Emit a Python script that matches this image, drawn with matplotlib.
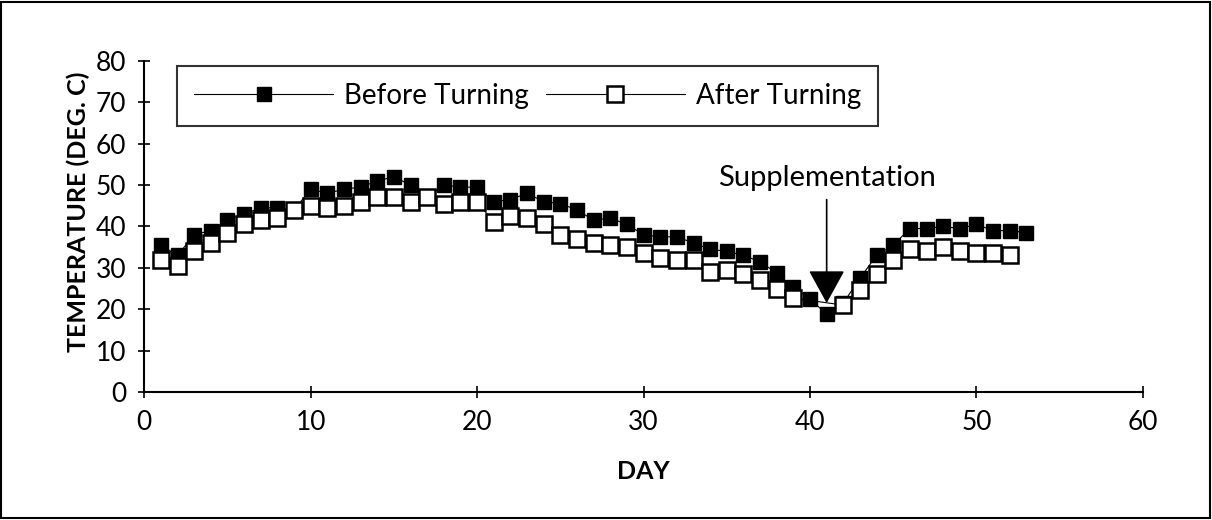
import matplotlib.pyplot as plt
from matplotlib.patches import Rectangle

days_before = list(range(1, 54))
before_turning = [35.5, 33, 38, 39, 41.5, 43, 44.5, 44.5, 44, 49,
                  48, 49, 49.5, 51, 52, 50, 47, 50, 49.5, 49.5,
                  46, 46.5, 48, 46, 45.5, 44, 41.5, 42, 40.5, 38,
                  37.5, 37.5, 36, 34.5, 34, 33, 31.5, 28.7, 25.4, 22.5,
                  18.8, 21.5, 27.5, 33, 35.5, 39.5, 39.5, 40, 39.5, 40.5,
                  39, 39, 38.5]
# no readings after turning on days 40 and 41
days_after = list(range(1, 40)) + list(range(42, 53))
after_turning = [32, 30.5, 34, 36, 38.5, 40.5, 41.5, 42, 44, 45,
                 44.5, 45, 46, 47, 47, 46, 47, 45.5, 46, 46,
                 41, 42.5, 42, 40.5, 38, 37, 36, 35.5, 35, 33.5,
                 32.5, 32, 32, 29, 29.5, 28.5, 27, 24.8, 22.7,
                 21, 24.7, 28.5, 32, 34.5, 34, 35, 34, 33.5,
                 33.5, 33]

plt.rcParams['font.family'] = ['Lato', 'DejaVu Sans']

fig = plt.figure(figsize=(12.12, 5.2), dpi=100)
ax = fig.add_axes([0.119, 0.246, 0.824, 0.637])

ax.plot(days_before, before_turning, color='black', lw=0.8, marker='s',
        markersize=10.5, markerfacecolor='black', markeredgecolor='black',
        label='Before Turning')
ax.plot(days_after, after_turning, color='black', lw=0.8, marker='s',
        markersize=11, markerfacecolor='white', markeredgecolor='black',
        markeredgewidth=1.8, label='After Turning')

ax.set_xlim(0, 60)
ax.set_ylim(0, 80)
ax.set_xticks(range(0, 61, 10))
ax.set_yticks(range(0, 81, 10))
ax.spines['top'].set_visible(False)
ax.spines['right'].set_visible(False)
ax.spines['left'].set_linewidth(1.5)
ax.spines['bottom'].set_linewidth(1.5)
ax.tick_params(direction='inout', length=8, width=1.2, labelsize=19, pad=9)

ax.set_xlabel('DAY', fontsize=18, fontweight='bold')
ax.set_ylabel('TEMPERATURE (DEG. C)', fontsize=18, fontweight='bold')
ax.xaxis.set_label_coords(0.5, -0.205)
ax.yaxis.set_label_coords(-0.054, 0.544)

ax.annotate('Supplementation', xy=(41, 21.5), xytext=(41, 48.5),
            ha='center', va='bottom', fontsize=21, zorder=5,
            arrowprops=dict(arrowstyle='-|>,head_length=1.0,head_width=0.55',
                            color='black', lw=1.2, shrinkA=4, shrinkB=0))

leg = ax.legend(loc='upper left', bbox_to_anchor=(0.033, 0.985), ncol=2,
                fontsize=20, frameon=True, fancybox=False, edgecolor='black',
                handlelength=5.0, columnspacing=0.6, handletextpad=0.4,
                borderpad=0.62, borderaxespad=0)
leg.get_frame().set_linewidth(1.5)
leg.set_zorder(6)

fig.add_artist(Rectangle((0.001, 0.003), 0.997, 0.994, transform=fig.transFigure,
                         fill=False, edgecolor='black', lw=1.5))

fig.savefig('out.png', dpi=100)
